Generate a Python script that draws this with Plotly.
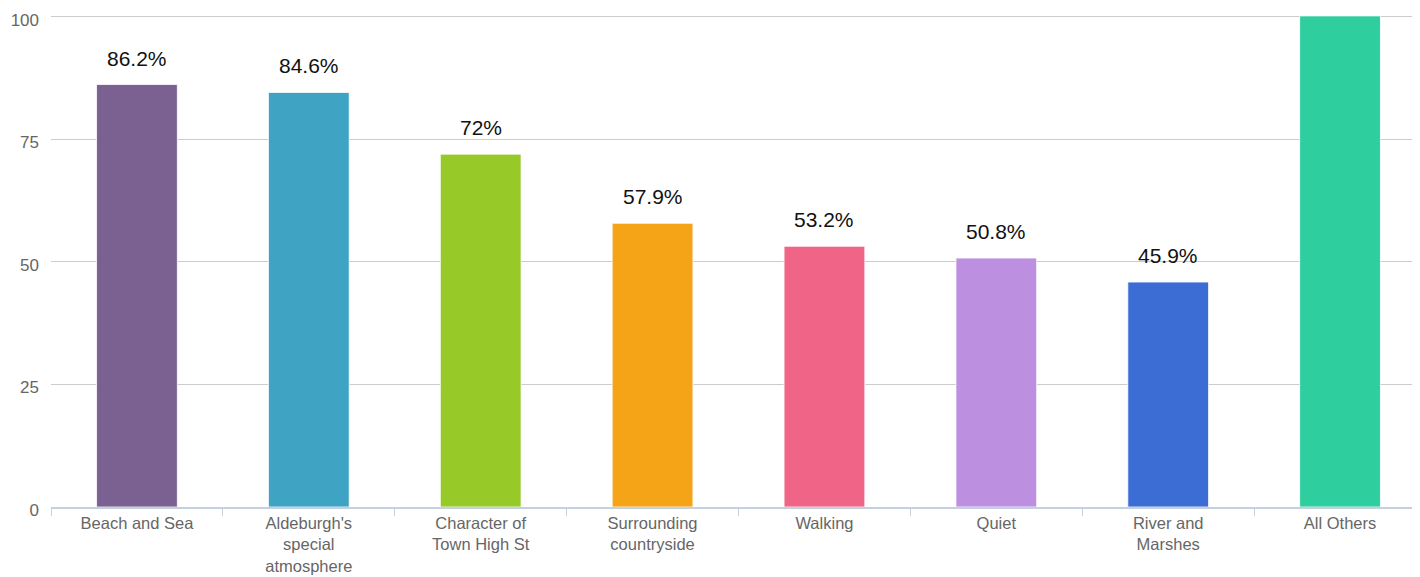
import plotly.graph_objects as go

categories = ["Beach and Sea", "Aldeburgh's<br>special<br>atmosphere", "Character of<br>Town High St",
              "Surrounding<br>countryside", "Walking", "Quiet", "River and<br>Marshes", "All Others"]
values = [86.2, 84.6, 72, 57.9, 53.2, 50.8, 45.9, 100.2]
labels = ["86.2%", "84.6%", "72%", "57.9%", "53.2%", "50.8%", "45.9%", ""]
colors = ["#7B6092", "#3FA3C3", "#97C928", "#F5A418", "#F06487", "#BD8FE0", "#3B6DD4", "#2ECE9E"]
y_ticks = [0, 25, 50, 75, 100]

fig = go.Figure()
fig.add_trace(go.Bar(
    x=categories, y=values,
    marker=dict(color=colors, line=dict(color="rgba(255,255,255,0.8)", width=1)),
    cliponaxis=False, hoverinfo="skip",
))

for c, v, t in zip(categories, values, labels):
    if t:
        fig.add_annotation(x=c, y=v, text=t, showarrow=False, yanchor="bottom", yshift=13,
                           font=dict(family="Liberation Sans, Arial, sans-serif", size=21, color="#111111"))

fig.update_layout(
    width=1420, height=577,
    margin=dict(l=43, r=2, t=4, b=78),
    paper_bgcolor="white", plot_bgcolor="white",
    bargap=0.53,
    showlegend=False,
    font=dict(family="Liberation Sans, Arial, sans-serif"),
)
fig.update_xaxes(
    type="category", automargin=False,
    showline=True, linecolor="#C3D0DF", linewidth=2,
    ticks="outside", tickson="boundaries", ticklen=7, tickcolor="#C3D0DF", tickwidth=1,
    tickfont=dict(family="Liberation Sans, Arial, sans-serif", size=16.5, color="#666666"),
    showgrid=False,
)
fig.update_yaxes(
    range=[0, 101], tickvals=y_ticks, automargin=False,
    showgrid=True, gridcolor="#CCCCCC", gridwidth=1,
    zeroline=False, ticklabeloverflow="allow",
    tickfont=dict(family="Liberation Sans, Arial, sans-serif", size=17, color="#666666"),
    ticklabelstandoff=11, ticklabelshift=3,
)

fig.write_html("out.html")
